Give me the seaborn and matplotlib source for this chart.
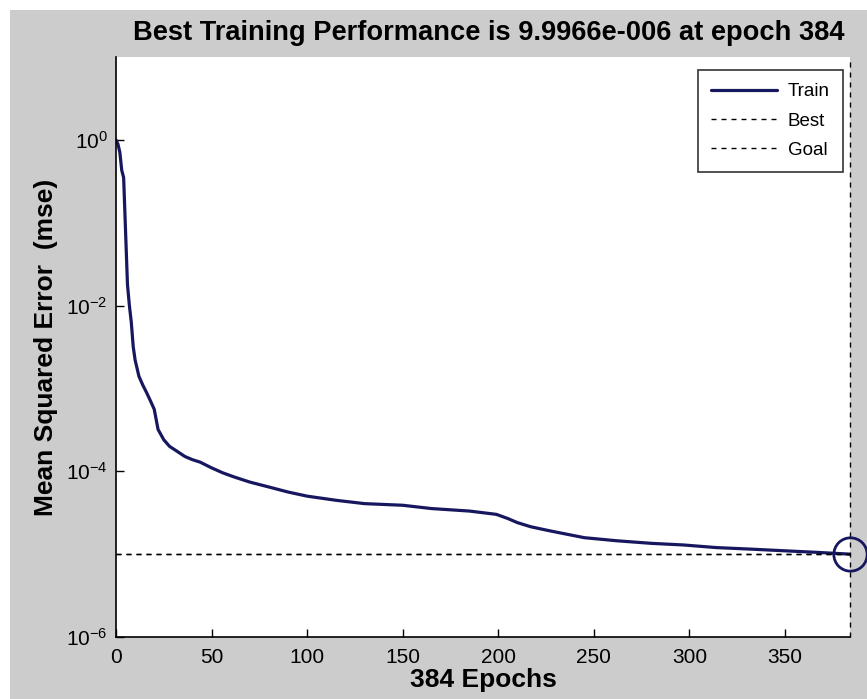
import matplotlib
matplotlib.use("Agg")
import matplotlib.pyplot as plt
import seaborn as sns
import pandas as pd
from matplotlib.patches import Rectangle
from matplotlib.ticker import NullLocator

epochs = [0, 1, 2, 3, 4, 5, 6, 7, 8, 9, 10, 12, 14, 16, 18, 20, 22, 25, 28, 32,
          36, 40, 44, 50, 56, 62, 70, 80, 90, 100, 115, 130, 150, 165, 185, 199,
          205, 210, 217, 227, 245, 262, 280, 297, 314, 332, 349, 367, 384]
mse = [1.0, 0.89, 0.71, 0.43, 0.35, 0.079, 0.018, 0.010, 0.0063, 0.0032, 0.0022,
       0.0014, 0.0011, 0.00089, 0.00071, 0.00056, 0.00032, 0.00024, 0.00020,
       0.000174, 0.000151, 0.000138, 0.000129, 0.000110, 0.0000955, 0.0000851,
       0.0000741, 0.0000646, 0.0000562, 0.0000501, 0.0000447, 0.0000407,
       0.0000389, 0.0000355, 0.0000331, 0.0000302, 0.0000269, 0.0000240,
       0.0000214, 0.0000191, 0.0000158, 0.0000145, 0.0000135, 0.0000129,
       0.0000120, 0.0000115, 0.0000110, 0.0000105, 9.9966e-6]
best_epoch = 384
best_perf = 9.9966e-6
goal = 1e-5
x_ticks = [0, 50, 100, 150, 200, 250, 300, 350]
y_ticks = [1e-6, 1e-4, 1e-2, 1e0]
legend_labels = ["Train", "Best", "Goal"]
title = "Best Training Performance is 9.9966e-006 at epoch 384"
xlabel = "384 Epochs"
ylabel = "Mean Squared Error  (mse)"

sns.set_style("ticks")
fam = "Liberation Sans"
plt.rcParams["font.family"] = [fam, "DejaVu Sans"]
plt.rcParams["mathtext.fontset"] = "custom"
plt.rcParams["mathtext.rm"] = fam
plt.rcParams["mathtext.default"] = "regular"
for k in ["text.color", "axes.labelcolor", "xtick.color", "ytick.color"]:
    plt.rcParams[k] = "black"

navy = "#17175f"
bg = "#cccccc"
dash = (0, (3.6, 3.6))

W, H = 867, 699
fig = plt.figure(figsize=(W / 100, H / 100), dpi=100, facecolor="white")
fig.patches.append(Rectangle((10 / W, 0), 1, 1 - 10 / H, transform=fig.transFigure,
                             facecolor=bg, edgecolor="none", zorder=-10))
ax = fig.add_axes([116 / W, 1 - 637 / H, 734 / W, 580 / H])
ax.set_facecolor("white")

df = pd.DataFrame({"epoch": epochs, "mse": mse})
sns.lineplot(data=df, x="epoch", y="mse", ax=ax, color=navy, linewidth=2.3,
             label=legend_labels[0])
ax.axvline(best_epoch, color="black", linestyle=dash, linewidth=1.0,
           label=legend_labels[1], clip_on=False)
ax.axhline(best_perf, color="black", linestyle=dash, linewidth=1.0)
ax.axhline(goal, color="black", linestyle=dash, linewidth=1.0,
           label=legend_labels[2])
ax.plot([best_epoch], [best_perf], marker="o", markersize=24, markerfacecolor="none",
        markeredgecolor=navy, markeredgewidth=2, clip_on=False, zorder=5)

ax.set_yscale("log")
ax.set_xlim(0, 384)
ax.set_ylim(1e-6, 1e1)
ax.set_xticks(x_ticks)
ax.set_yticks(y_ticks)
ax.yaxis.set_minor_locator(NullLocator())
ax.tick_params(direction="in", length=6, width=1, labelsize=15, colors="black",
               pad=6)
ax.tick_params(axis="x", pad=8)
for s in ["top", "right"]:
    ax.spines[s].set_visible(False)
for s in ["left", "bottom"]:
    ax.spines[s].set_linewidth(1.2)
    ax.spines[s].set_color("black")

ax.set_title(title, fontsize=19.6, fontweight="bold", pad=12, x=(489 - 116) / 734)
ax.set_xlabel(xlabel, fontsize=19, fontweight="bold", labelpad=1)
ax.set_ylabel(ylabel, fontsize=19, fontweight="bold", labelpad=6)

leg = ax.legend(loc="upper right", bbox_to_anchor=(727 / 734, (637 - 70) / 580),
                borderaxespad=0, fontsize=13.5, frameon=True, fancybox=False,
                edgecolor="black", handlelength=3.5, labelspacing=0.65,
                handletextpad=0.6, borderpad=0.7)
leg.get_frame().set_linewidth(1.2)
leg.get_frame().set_facecolor("white")

fig.savefig("out.png", dpi=100, facecolor="white")
